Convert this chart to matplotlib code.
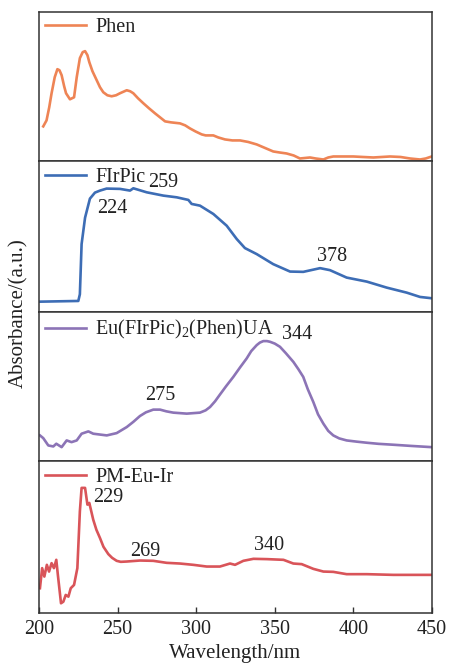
import matplotlib
matplotlib.use("Agg")
import matplotlib.pyplot as plt

plt.rcParams['font.family'] = ['Liberation Serif', 'DejaVu Serif']
plt.rcParams['mathtext.fontset'] = 'custom'
plt.rcParams['mathtext.rm'] = 'Liberation Serif'

# ---- data (wavelength nm, absorbance a.u.) ----
phen_x = [202.7, 204.8, 206.5, 208, 210, 211.7, 213, 214.4, 216, 217.2, 219.7, 222.3, 224, 226,
          227.8, 229.3, 230.8, 232, 234, 236.7, 238.8, 240.9, 243.5,
          246.2, 249, 251.5, 255.8, 258, 260, 263, 266.4, 270, 273.8, 277, 280.2, 284, 289.7, 293,
          296, 299.5, 303.5, 306, 310.9, 314, 318.3, 323, 327.9, 333,
          338.5, 343, 349, 353, 357.5, 362, 366, 372.4, 376, 380.9, 384, 387.2, 393, 400, 406,
          412.7, 418, 423.3, 430, 436, 442.4, 446, 449.8]
phen_y = [35, 41, 54, 68, 84, 92, 91, 86, 75, 68, 62, 64, 84, 103,
          109, 110, 106, 99, 90, 81, 74, 69, 66,
          65, 66, 68, 71, 70, 68, 63, 58, 53, 48, 44, 40, 39, 38, 36,
          33, 30, 27, 26, 26, 24, 22, 21, 21, 19.5,
          17, 14, 10, 9, 8, 6, 3, 4, 3, 2, 4, 5, 5, 5, 4.5,
          4, 4.5, 5, 4.5, 3, 2, 3, 5]

fir_x = [200.6, 225, 226, 227.1, 229.3, 232.4, 235.6, 238.8, 243, 251.5, 257.9, 260, 268.5,
         279.1, 287.6, 295, 297.1, 302.4, 310.9, 319.4, 325.8, 331, 338.5, 349, 359.7, 368.1,
         378.8, 385.1, 395.7, 408.5, 421.2, 433.9, 442.4, 449.8]
fir_y = [10.3, 11, 17.7, 67.7, 94, 113, 119, 121, 123, 122.7, 121, 123.3, 119.3,
         116, 114.3, 111.7, 107.7, 106, 97.7, 86, 72.7, 63.7, 57.7, 47.7, 40.3, 40,
         43.7, 41.7, 34.3, 30.3, 24.3, 19.3, 15, 13.7]

eu_x = [200.6, 202.7, 205.9, 209.1, 211, 214.4, 217.6, 220.7, 224, 227.1, 231.4, 234.5, 243.1,
        249.4, 255.8, 260, 264.2, 268, 272.7, 277, 281, 285.4, 294, 302.4, 306, 308.8, 312, 315.1,
        319, 323.6, 328, 332.1, 335, 338.5, 340.5, 342.7, 345, 347, 350, 353.3, 357, 361.8, 365,
        368.1, 371, 374.5, 377.5, 380.9, 384, 387.2, 391, 395.7, 402, 408.5, 416, 425.4, 437, 449.8]
eu_y = [26, 23.3, 16, 15, 17.7, 14.3, 21, 19.3, 21, 27.7, 30, 27.7, 26,
        28.3, 34.3, 39.5, 45.3, 49, 51.7, 51.7, 50, 48.7, 47.7, 48.7, 51, 54.3, 60, 66.7,
        75, 84.3, 94, 102.7, 110, 116, 118.5, 120, 120, 119.3, 117.5, 114.3, 108, 99.3, 92,
        84.3, 72, 59.3, 47, 37.7, 30.5, 26, 23, 21, 19.8, 18.7, 17.6, 16.7, 15.5, 14.3]

pm_x = [200.6, 202, 203.4, 205, 206.4, 208, 209.5, 211, 212, 214, 215.5, 217, 218.7, 220.2,
        222.3, 224.4, 226, 227.1, 229.3, 230.8, 232, 234.5, 236.5, 238.8, 241, 244.1, 246.5, 249.4,
        252, 255.8, 264.2,
        272.7, 281.2, 289.7, 298.2, 306.7, 315.1, 321.5, 324.7, 330, 336.4, 344.9, 355.5,
        361.8, 367.1, 374.5, 380.9, 387.2, 395.7, 408.5, 425.4, 449.8]
pm_y = [24.7, 44.7, 36.3, 48, 41.3, 49.7, 44.7, 53, 38, 9.7, 11.3, 18, 16.3, 24.7,
        28, 44.7, 101.3, 124.7, 124.7, 108, 109.7, 93, 83, 74.7, 66, 58.7, 55, 52,
        51, 51.3, 52.3,
        52, 50, 49.3, 48, 46.3, 46.3, 49.3, 48, 52, 54, 53.7, 53,
        49.3, 48.7, 44, 41.3, 41, 38.7, 38.7, 38, 38]

labels = ['Phen', 'FIrPic', r'Eu(FIrPic)$_{\mathregular{2}}$(Phen)UA', 'PM-Eu-Ir']
colors = ['#EE8455', '#3D6DB5', '#8C74B6', '#D95459']
ylims = [149, 150, 149, 151]

peak_text = [[], ['259', '224', '378'], ['275', '344'], ['229', '269', '340']]
peak_pos = [[], [(279, 129), (246.6, 103), (386.2, 55)],
            [(277, 66), (363.9, 127)],
            [(244.1, 114.7), (267.9, 61.3), (346.5, 67.3)]]

xticks = [200, 250, 300, 350, 400, 450]

fig = plt.figure(figsize=(4.49, 6.63), dpi=100)
gs = fig.add_gridspec(4, 1, left=39/449, right=432/449, bottom=1-613/663, top=1-12/663,
                      hspace=0.0, height_ratios=ylims)
series = [(phen_x, phen_y), (fir_x, fir_y), (eu_x, eu_y), (pm_x, pm_y)]
FS = 14.5
for i, (xs, ys) in enumerate(series):
    ax = fig.add_subplot(gs[i])
    ax.plot(xs, ys, color=colors[i], lw=1.9, label=labels[i], solid_joinstyle='round')
    ax.set_xlim(200, 450)
    ax.set_ylim(0, ylims[i])
    ax.set_yticks([])
    for sp in ax.spines.values():
        sp.set_color('#333333')
        sp.set_linewidth(1.1)
    if i < 3:
        ax.set_xticks([])
    else:
        ax.set_xticks(xticks)
        ax.tick_params(axis='x', direction='in', length=4, width=1, colors='#333333',
                       labelcolor='#222222', labelsize=FS, pad=5)
        ax.set_xlabel('Wavelength/nm', fontsize=15, color='#222222', labelpad=3.5)
    leg = ax.legend(loc='upper left', bbox_to_anchor=(0.0, 1.0), frameon=False,
                    fontsize=FS, handlelength=2.05, handletextpad=0.45,
                    borderaxespad=0.2, borderpad=0.1)
    for t in leg.get_texts():
        t.set_color('#222222')
    for txt, (px, py) in zip(peak_text[i], peak_pos[i]):
        ax.text(px, py, txt, ha='center', va='center', fontsize=FS, color='#222222')

fig.text(19/449, 1-313/663, 'Absorbance/(a.u.)', rotation=90, ha='center', va='center',
         fontsize=15, color='#222222')

fig.savefig('out.png', dpi=100)
